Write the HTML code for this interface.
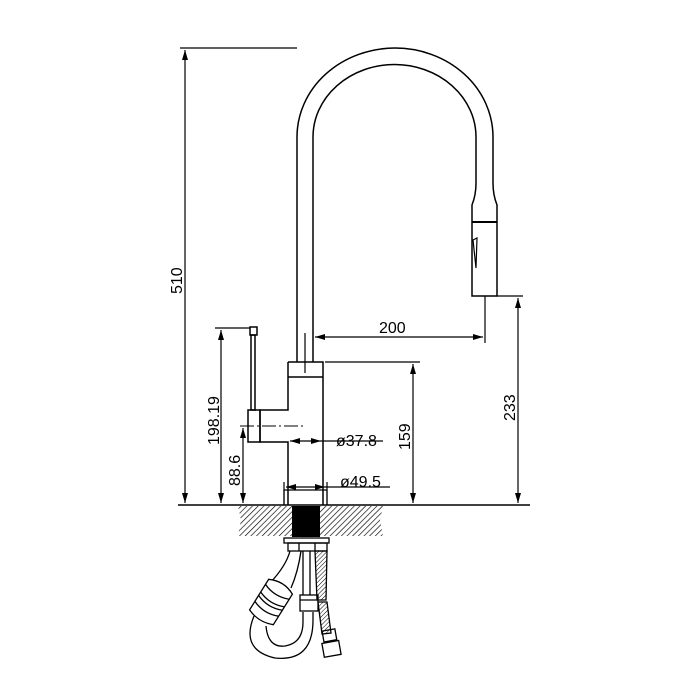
<!DOCTYPE html>
<html><head><style>body{margin:0;background:#fff}svg{display:block}</style></head><body>
<svg width="700" height="700" viewBox="0 0 700 700" xmlns="http://www.w3.org/2000/svg">
<defs>
<pattern id="h" width="4" height="4" patternUnits="userSpaceOnUse" patternTransform="rotate(45)"><line x1="0" y1="0" x2="0" y2="4" stroke="#000" stroke-width="1.3"/></pattern>
<pattern id="b" width="3" height="3" patternUnits="userSpaceOnUse" patternTransform="rotate(45)"><line x1="0" y1="0" x2="0" y2="3" stroke="#000" stroke-width="1"/></pattern>
<marker id="a" viewBox="0 0 10 6" refX="10" refY="3" markerWidth="10" markerHeight="6" orient="auto-start-reverse" markerUnits="userSpaceOnUse"><path d="M0,0L10,3L0,6z" fill="#000"/></marker>
</defs>
<g fill="none" stroke="#000" stroke-width="1.5">
<path d="M297,362 V137 A98,89 0 0 1 493,137 V183 Q493,195 497,205 V296 H472 V205 Q476,195 476,183 V137 A81,72 0 0 0 313,137 V362"/>
<line x1="472" y1="222" x2="497" y2="222" stroke-width="2"/>
<path d="M473,240 L477,238 L476,268 Z" stroke-width="1.2"/>
<path d="M288,362 H323 V505 M288,362 V410 H260 V442 H288 V505"/>
<line x1="288" y1="377" x2="323" y2="377"/>
<line x1="305" y1="333" x2="305" y2="373" stroke-width="1.2"/>
<rect x="248" y="410" width="12" height="32"/>
<rect x="251" y="335" width="4" height="75"/>
<rect x="250" y="327" width="7" height="8"/>
<path d="M284,505 V490 H327 V505" stroke-width="1.2"/>
</g>
<line x1="240" y1="426" x2="306" y2="426" stroke="#000" stroke-width="1" stroke-dasharray="14,3,2,3"/>
<g stroke="#000" stroke-width="1.2" fill="none">
<line x1="178" y1="505" x2="530" y2="505" stroke-width="1.5"/>
<line x1="180" y1="48" x2="297" y2="48"/>
<line x1="185" y1="50" x2="185" y2="503" marker-start="url(#a)" marker-end="url(#a)"/>
<line x1="215" y1="328" x2="250" y2="328"/>
<line x1="221" y1="330" x2="221" y2="503" marker-start="url(#a)" marker-end="url(#a)"/>
<line x1="243" y1="428" x2="243" y2="503" marker-start="url(#a)" marker-end="url(#a)"/>
<line x1="325" y1="362" x2="420" y2="362"/>
<line x1="413" y1="364" x2="413" y2="503" marker-start="url(#a)" marker-end="url(#a)"/>
<line x1="497" y1="296" x2="523" y2="296"/>
<line x1="518" y1="298" x2="518" y2="503" marker-start="url(#a)" marker-end="url(#a)"/>
<line x1="485" y1="296" x2="485" y2="343"/>
<line x1="315" y1="337" x2="483" y2="337" marker-start="url(#a)" marker-end="url(#a)"/>
<line x1="290" y1="441" x2="321" y2="441" marker-start="url(#a)" marker-end="url(#a)"/>
<line x1="321" y1="441" x2="383" y2="441"/>
<line x1="286" y1="487" x2="325" y2="487" marker-start="url(#a)" marker-end="url(#a)"/>
<line x1="325" y1="487" x2="390" y2="487"/>
<line x1="284" y1="482" x2="284" y2="505"/><line x1="327" y1="482" x2="327" y2="505"/>
</g>
<g font-family="Liberation Sans, sans-serif" font-size="16" fill="#000">
<text x="379" y="333">200</text>
<text x="336" y="446">ø37.8</text>
<text x="340" y="487">ø49.5</text>
<text transform="translate(182,294) rotate(-90)">510</text>
<text transform="translate(219,445) rotate(-90)">198.19</text>
<text transform="translate(240,486) rotate(-90)">88.6</text>
<text transform="translate(410,450) rotate(-90)">159</text>
<text transform="translate(515,421) rotate(-90)">233</text>
</g>
<path d="M238,506 H383 L380,520 L383,536 H238 L241,520 Z" fill="url(#h)" stroke="none"/>
<rect x="292" y="506" width="28" height="31" fill="#000"/>
<g fill="none" stroke="#000" stroke-width="1.3">
<rect x="284" y="538" width="45" height="5"/>
<rect x="288" y="543" width="39" height="8"/>
<line x1="299" y1="543" x2="299" y2="551"/><line x1="315" y1="543" x2="315" y2="551"/>
<!-- big hose -->
<path d="M290,551 Q286,566 270,583 M301,551 Q298,572 291,588"/>
<!-- U -->
<path d="M254,616 Q240,650 275,658 Q313,662 313,620 V612"/>
<path d="M266,626 Q268,648 285,646 Q303,643 303,622 V612"/>
<!-- middle tube -->
<path d="M303,551 V595 M310,551 V595"/>
<rect x="300" y="595" width="18" height="16"/>
<line x1="300" y1="600" x2="318" y2="600"/>
<!-- sleeve -->
<g transform="translate(271,602) rotate(32)" fill="#fff">
<path d="M-14,-18 Q0,-25 14,-18 V18 Q0,24 -14,18 Z"/>
<path d="M-14,-12 Q0,-6 14,-12 M-14,-3 Q0,3 14,-3 M-14,1 Q0,7 14,1 M-14,8 Q0,14 14,8" fill="none"/>
</g>
<!-- braided hose -->
<path d="M315,551 H327 L326,600 H317 Z" fill="url(#b)"/>
<path d="M318,602 L327,602 L331,633 L322,634 Z" fill="url(#b)"/>
<rect x="323" y="630" width="13" height="11" transform="rotate(-10 329 636)"/>
<rect x="323" y="642" width="17" height="14" transform="rotate(-10 331 649)"/>
</g>
</svg>
</body></html>
